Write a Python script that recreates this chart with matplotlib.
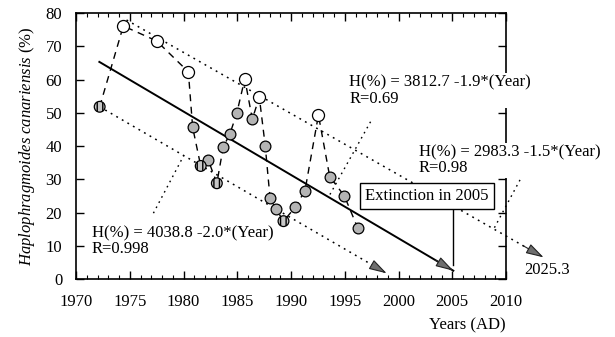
import numpy as np
import matplotlib.pyplot as plt
from matplotlib.ticker import MultipleLocator

plt.rcParams['font.family'] = 'Liberation Serif'
plt.rcParams['font.size'] = 12
plt.rcParams['mathtext.fontset'] = 'custom'
plt.rcParams['mathtext.it'] = 'Liberation Serif:italic'
plt.rcParams['mathtext.rm'] = 'Liberation Serif'

# dados
anos = [1972.2, 1974.4, 1977.5, 1980.45, 1980.85, 1981.6, 1982.3, 1983.1,
        1983.7, 1984.3, 1984.95, 1985.7, 1986.4, 1987.05, 1987.6, 1988.05,
        1988.6, 1989.3, 1990.4, 1991.3, 1992.55, 1993.6, 1994.96, 1996.2]
valores = [51.8, 76.1, 71.6, 62.3, 45.6, 34.0, 35.8, 28.8, 39.8, 43.5,
           49.8, 60.2, 48.1, 54.7, 40.1, 24.3, 21.1, 17.4, 21.6, 26.6,
           49.3, 30.8, 25.0, 15.4]
# o = aberto, g = cinza, s = cinza listrado
tipo = ['s', 'o', 'o', 'o', 'g', 's', 'g', 's', 'g', 'g', 'g', 'o', 'g',
        'o', 'g', 'g', 'g', 's', 'g', 'g', 'o', 'g', 'g', 'g']

# retas de tendencia (inicio e fim)
reta_media_x = [1972.17, 2005.1]
reta_media_y = [65.3, 2.5]
reta_sup_x = [1974.7, 2013.5]
reta_sup_y = [77.9, 6.5]
reta_inf_x = [1972.2, 1998.9]
reta_inf_y = [51.8, 1.7]

fig = plt.figure(figsize=(6.15, 3.37), dpi=100)
ax = fig.add_axes([0.1236, 0.1721, 0.6992, 0.7893])

ax.plot(anos, valores, color='black', linestyle=(0, (5, 4)), linewidth=1, zorder=2)

cores = {'o': 'white', 'g': '#b4b4b4', 's': '#c8c8c8'}
for t in ['o', 'g', 's']:
    xs = [a for a, k in zip(anos, tipo) if k == t]
    ys = [v for v, k in zip(valores, tipo) if k == t]
    ax.scatter(xs, ys, s=75 if t == 'o' else 60, facecolor=cores[t],
               edgecolor='black', linewidth=0.9, zorder=4,
               hatch='|||' if t == 's' else None)


def seta(xs, ys, estilo, lw):
    ax.plot(xs, ys, color='black', linestyle=estilo, linewidth=lw, zorder=3,
            clip_on=False)
    dx = xs[1] - xs[0]
    dy = ys[1] - ys[0]
    f = 0.05
    ax.annotate('', xy=(xs[1], ys[1]), xytext=(xs[1] - f * dx, ys[1] - f * dy),
                arrowprops=dict(arrowstyle='-|>,head_length=0.55,head_width=0.16',
                                mutation_scale=20,
                                fc='#6e6e6e', ec='#222222', lw=0.8,
                                shrinkA=0, shrinkB=0),
                annotation_clip=False, zorder=5)


seta(reta_media_x, reta_media_y, '-', 1.4)
seta(reta_sup_x, reta_sup_y, (0, (1.2, 3)), 1.1)
seta(reta_inf_x, reta_inf_y, (0, (1.2, 3)), 1.1)

# linhas-guia pontilhadas
pont = (0, (1.2, 3))
ax.plot([1977.2, 1980.0], [19.8, 37.0], color='black', linestyle=pont, linewidth=1)
ax.plot([1997.4, 1993.6], [47.3, 25.3], color='black', linestyle=pont, linewidth=1)
ax.plot([2011.3, 2008.8], [29.8, 14.7], color='black', linestyle=pont, linewidth=1, clip_on=False)

caixa = dict(facecolor='white', edgecolor='none', pad=1)
ax.text(1995.4, 61.5, 'H(%) = 3812.7 -1.9*(Year)\nR=0.69', va='top', ha='left',
        linespacing=1.0, bbox=caixa, zorder=6)
ax.text(2001.9, 40.5, 'H(%) = 2983.3 -1.5*(Year)\nR=0.98', va='top', ha='left',
        linespacing=1.0, bbox=caixa, zorder=6)
ax.text(1971.45, 16.2, 'H(%) = 4038.8 -2.0*(Year)\nR=0.998', va='top', ha='left',
        linespacing=1.0, zorder=6)
ax.text(2011.7, 2.7, '2025.3', va='center', ha='left')

# caixa da extincao e linha vertical
ax.plot([2005.1, 2005.1], [4.2, 21.3], color='black', linewidth=1, zorder=5)
ax.text(2002.65, 25.1, 'Extinction in 2005', ha='center', va='center',
        bbox=dict(boxstyle='square,pad=0.3', fc='white', ec='black', lw=1),
        zorder=6)

ax.set_xlim(1970, 2010)
ax.set_ylim(0, 80)
ax.xaxis.set_major_locator(MultipleLocator(5))
ax.xaxis.set_minor_locator(MultipleLocator(1))
ax.yaxis.set_major_locator(MultipleLocator(10))
ax.tick_params(axis='both', which='major', direction='in', length=6, width=1)
ax.tick_params(axis='both', which='minor', direction='in', length=3, width=0.8)
ax.tick_params(axis='x', which='both', top=True, pad=11)
ax.tick_params(axis='y', which='both', right=True, pad=10)
for s in ax.spines.values():
    s.set_linewidth(1.2)

ax.set_ylabel(r'$\it{Haplophragmoides\ canariensis}$ (%)', labelpad=6)
ax.set_xlabel('Years (AD)', loc='right', labelpad=5)

fig.savefig('out.png', dpi=100)
